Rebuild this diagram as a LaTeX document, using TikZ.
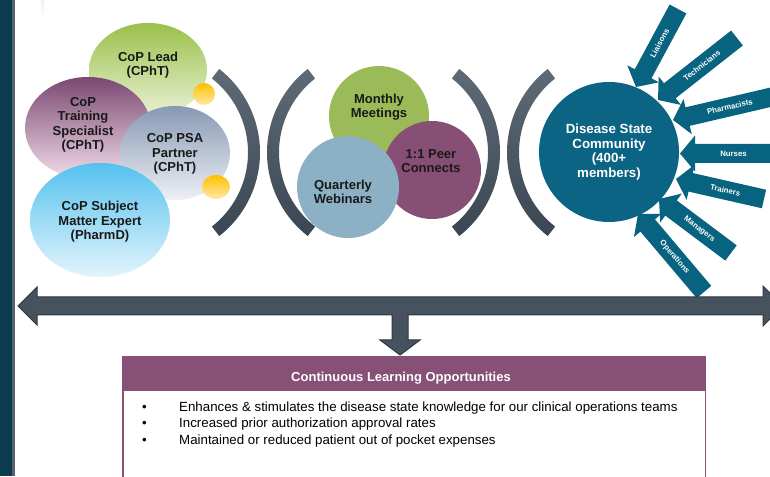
\documentclass[tikz,border=0pt]{standalone}
\usepackage{fontspec}
\setmainfont{Liberation Sans}
\usetikzlibrary{shapes.geometric,calc}
\definecolor{darkbar}{HTML}{0A3B4E}
\definecolor{barstrip}{HTML}{56636E}
\definecolor{leadTop}{HTML}{9BC04A}
\definecolor{leadBot}{HTML}{EAF2D6}
\definecolor{trTop}{HTML}{7A4871}
\definecolor{trBot}{HTML}{F3DDEB}
\definecolor{psaTop}{HTML}{8799B4}
\definecolor{psaBot}{HTML}{EEF0F4}
\definecolor{smeTop}{HTML}{55C1EE}
\definecolor{smeBot}{HTML}{E3F4FC}
\definecolor{dotTop}{HTML}{FFC000}
\definecolor{dotBot}{HTML}{FFE9A6}
\definecolor{brTop}{HTML}{5E6A75}
\definecolor{brBot}{HTML}{3A4652}
\definecolor{mgreen}{HTML}{9BBB59}
\definecolor{mpurple}{HTML}{874F75}
\definecolor{mblue}{HTML}{8CB1C4}
\definecolor{dsc}{HTML}{0B6483}
\definecolor{arrcol}{HTML}{07637F}
\definecolor{dblfill}{HTML}{46535F}
\definecolor{dbldraw}{HTML}{2E3944}
\definecolor{hdr}{HTML}{875076}
\begin{document}
\begin{tikzpicture}[x=1pt,y=1pt,
  bub/.style={ellipse, inner sep=0pt, draw=none},
  btxt/.style={align=center, font=\bfseries\fontsize{13}{14.5}\selectfont, text=black!90, inner sep=0pt},
  mcirc/.style={circle, inner sep=0pt, minimum size=#1, draw=none},
  brk/.style={top color=brTop, bottom color=brBot},
  arrlab/.style={text=white, font=\bfseries\fontsize{7.8}{9}\selectfont, inner sep=0pt},
  bul/.style={anchor=mid west, font=\fontsize{13.3}{15}\selectfont, inner sep=0pt}]
\useasboundingbox (0,0) rectangle (770,476);
\fill[white] (0,0) rectangle (770,476);
% left bar
\fill[darkbar] (0,0) rectangle (12,476);
\fill[barstrip] (12,0) rectangle (15,476);
\shade[top color=gray!12, bottom color=white] (41,476) rectangle (44,458);

% left bubbles
\node[bub, minimum width=118pt, minimum height=94pt, top color=leadTop, bottom color=leadBot] (lead) at (148,406) {};
\node[bub, minimum width=126pt, minimum height=102pt, top color=trTop, bottom color=trBot] (train) at (88,348) {};
\node[bub, minimum width=110pt, minimum height=94pt, top color=psaTop, bottom color=psaBot] (psa) at (175,323) {};
\node[bub, minimum width=140pt, minimum height=114pt, top color=smeTop, bottom color=smeBot] (sme) at (100,256) {};
\node[bub, minimum width=22pt, minimum height=22pt, top color=dotTop, bottom color=dotBot] (dot1) at (204,382) {};
\node[bub, minimum width=28pt, minimum height=24pt, top color=dotTop, bottom color=dotBot] (dot2) at (216,289) {};
\node[btxt] (leadt) at (148,411) {CoP Lead\\(CPhT)};
\node[btxt] (traint) at (83,351) {CoP\\Training\\Specialist\\(CPhT)};
\node[btxt] (psat) at (175,322) {CoP PSA\\Partner\\(CPhT)};
\node[btxt] (smet) at (100,254) {CoP Subject\\Matter Expert\\(PharmD)};

% brackets
\foreach \cx in {154,394}{
  \shade[brk] ($(\cx,323.5)+(-52:106)$) arc[start angle=-52,end angle=52,radius=106]
    -- ($(\cx,323.5)+(52:94)$) arc[start angle=52,end angle=-52,radius=94] -- cycle;
}
\foreach \cx in {373,613}{
  \shade[brk] ($(\cx,323.5)+(128:106)$) arc[start angle=128,end angle=232,radius=106]
    -- ($(\cx,323.5)+(232:94)$) arc[start angle=232,end angle=128,radius=94] -- cycle;
}

% middle circles
\node[mcirc=100pt, fill=mgreen] (month) at (379,360) {};
\node[mcirc=98pt, fill=mpurple] (peer) at (432,306) {};
\node[mcirc=102pt, fill=mblue] (quart) at (348,289) {};
\node[btxt] (montht) at (379,369) {Monthly\\Meetings};
\node[btxt] (peert) at (431,315) {1:1 Peer\\Connects};
\node[btxt] (quartt) at (343,284) {Quarterly\\Webinars};

% disease state community
\node[circle, fill=dsc, minimum size=140pt, inner sep=0pt] (dsc) at (609,324) {};
\node[btxt, text=white, font=\bfseries\fontsize{13.3}{14.5}\selectfont] (dsct) at (609,324) {Disease State\\Community\\(400+\\members)};

% incoming arrows
\foreach \lab/\tx/\ty/\px/\py in {Liaisons/678/467/636/389, Technicians/737/438/658/376,
  Pharmacists/776/380/673/356, Nurses/776/322.5/680/322.5, Trainers/764/277/676/297,
  Managers/731/223/659/277, Operations/704/184/638/262}{
  \pgfmathsetmacro\ang{atan2(\ty-\py,\tx-\px)}
  \pgfmathsetmacro\len{veclen(\tx-\px,\ty-\py)}
  \begin{scope}[shift={(\px,\py)}, rotate=\ang]
    \fill[arrcol] (0,0) -- (15,18) -- (15,9.5) -- (\len,9.5) -- (\len,-9.5) -- (15,-9.5) -- (15,-18) -- cycle;
    \node[arrlab, rotate=\ang] (a\lab) at ({(\len+15)/2-2},0) {\lab};
  \end{scope}
}

% double arrow with down arrow
\fill[dblfill, draw=dbldraw, line width=1pt, line join=miter]
  (18,170) -- (37,189) -- (37,179) -- (763,179) -- (763,190) -- (783,170) -- (763,150)
  -- (763,161) -- (408,161) -- (408,136) -- (420,136) -- (400,121) -- (380,136)
  -- (392,136) -- (392,161) -- (37,161) -- (37,151) -- cycle;

% learning box
\draw[hdr, line width=1.5pt, fill=white] (122.75,119) rectangle (705.25,-10);
\fill[hdr] (122,119) rectangle (706,85);
\node[text=white, font=\bfseries\fontsize{13}{15}\selectfont, inner sep=0pt] (hdrt) at (401,98) {Continuous Learning Opportunities};
\foreach \yy/\txt [count=\i] in {67/{Enhances \& stimulates the disease state knowledge for our clinical operations teams},
  51/{Increased prior authorization approval rates}, 34/{Maintained or reduced patient out of pocket expenses}}{
  \node[bul] (b\i) at (142,\yy) {•};
  \node[bul] (t\i) at (179,\yy) {\txt};
}
\end{tikzpicture}
\end{document}
